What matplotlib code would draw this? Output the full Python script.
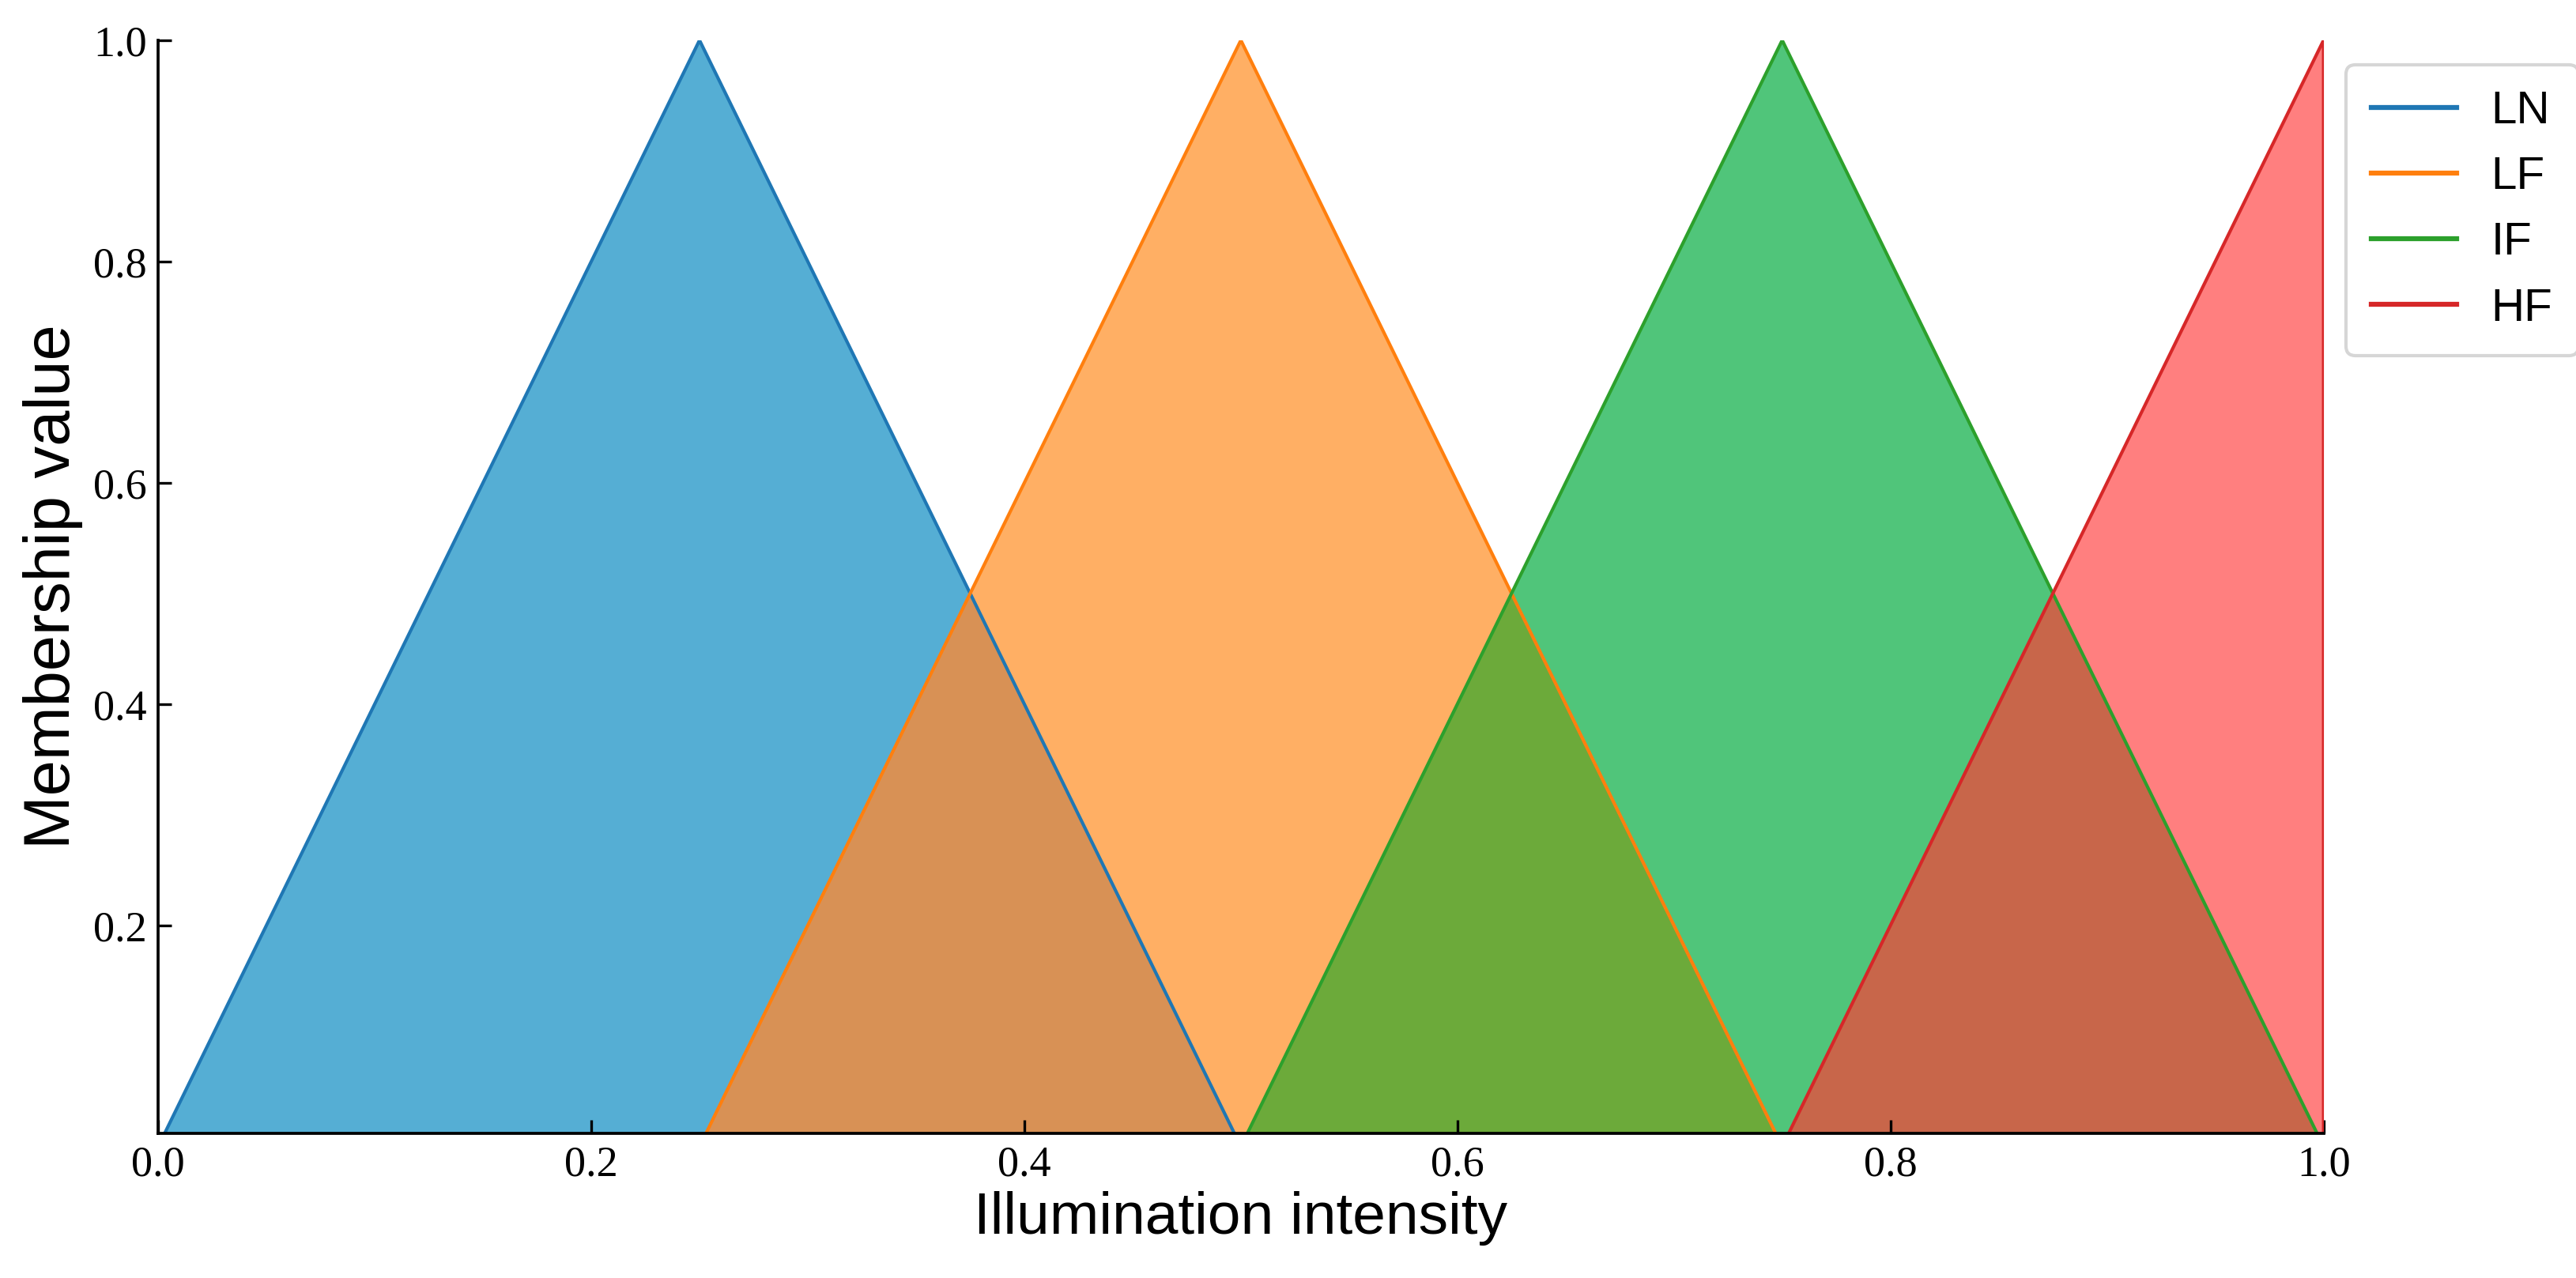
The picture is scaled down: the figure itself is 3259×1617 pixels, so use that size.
import numpy as np
import matplotlib.pyplot as plt

# membership functions (x points, y points)
labels = ["LN", "LF", "IF", "HF"]
ln_x = [0.0, 0.25, 0.5]
ln_y = [0.0, 1.0, 0.0]
lf_x = [0.25, 0.5, 0.75]
lf_y = [0.0, 1.0, 0.0]
if_x = [0.5, 0.75, 1.0]
if_y = [0.0, 1.0, 0.0]
hf_x = [0.75, 1.0, 1.0]
hf_y = [0.0, 1.0, 0.0]

line_colors = ["#1f77b4", "#ff7f0e", "#2ca02c", "#d62728"]
fill_colors = ["#55aed4", "#ffaf64", "#50c57a", "#ff7f7f"]
# colours where two neighbouring sets overlap (LN/LF, LF/IF, IF/HF)
overlap_colors = ["#d89155", "#6caa3a", "#c8664a"]

xs = [ln_x, lf_x, if_x, hf_x]
ys = [ln_y, lf_y, if_y, hf_y]

fig = plt.figure(figsize=(3259 / 300, 1617 / 300), dpi=300)
ax = fig.add_axes([0.0614, 0.1132, 0.8406, 0.8553])

grid = np.linspace(0, 1, 4001)
curves = []
for x, y in zip(xs, ys):
    curves.append(np.interp(grid, x, y, left=0, right=0))
# HF reaches 1 at the right edge
curves[3][-1] = 1.0

for lab, x, y, lc, fc in zip(labels, xs, ys, line_colors, fill_colors):
    ax.fill_between(x, y, color=fc, linewidth=0, zorder=1)

for i, oc in enumerate(overlap_colors):
    low = np.minimum(curves[i], curves[i + 1])
    ax.fill_between(grid, low, where=low > 0, color=oc, linewidth=0, zorder=1.5)

for lab, x, y, lc in zip(labels, xs, ys, line_colors):
    ax.plot(x, y, color=lc, linewidth=1.0, label=lab, zorder=2)

ax.set_xlim(0, 1.0)
ax.set_ylim(0.012, 1.0)
ax.set_xticks([0.0, 0.2, 0.4, 0.6, 0.8, 1.0])
ax.set_yticks([0.2, 0.4, 0.6, 0.8, 1.0])
ax.tick_params(direction="in", length=4, width=0.8)
for t in ax.get_xticklabels() + ax.get_yticklabels():
    t.set_fontfamily("Liberation Serif")
    t.set_fontsize(13)

ax.spines["top"].set_visible(False)
ax.spines["right"].set_visible(False)
ax.spines["left"].set_linewidth(0.9)
ax.spines["bottom"].set_linewidth(0.9)

ax.set_xlabel("Illumination intensity", fontsize=18, fontfamily="Liberation Sans", labelpad=2)
ax.set_ylabel("Membership value", fontsize=19.5, fontfamily="Liberation Sans", labelpad=3)

leg = ax.legend(loc="upper left", bbox_to_anchor=(2968 / 3259, 1 - 82 / 1617),
                bbox_transform=fig.transFigure, frameon=True, borderaxespad=0,
                borderpad=0.55, handlelength=1.85, handletextpad=0.75,
                prop={"family": "Liberation Sans", "size": 14})
for h in leg.get_lines():
    h.set_linewidth(1.5)

fig.savefig("out.png", dpi=300)
